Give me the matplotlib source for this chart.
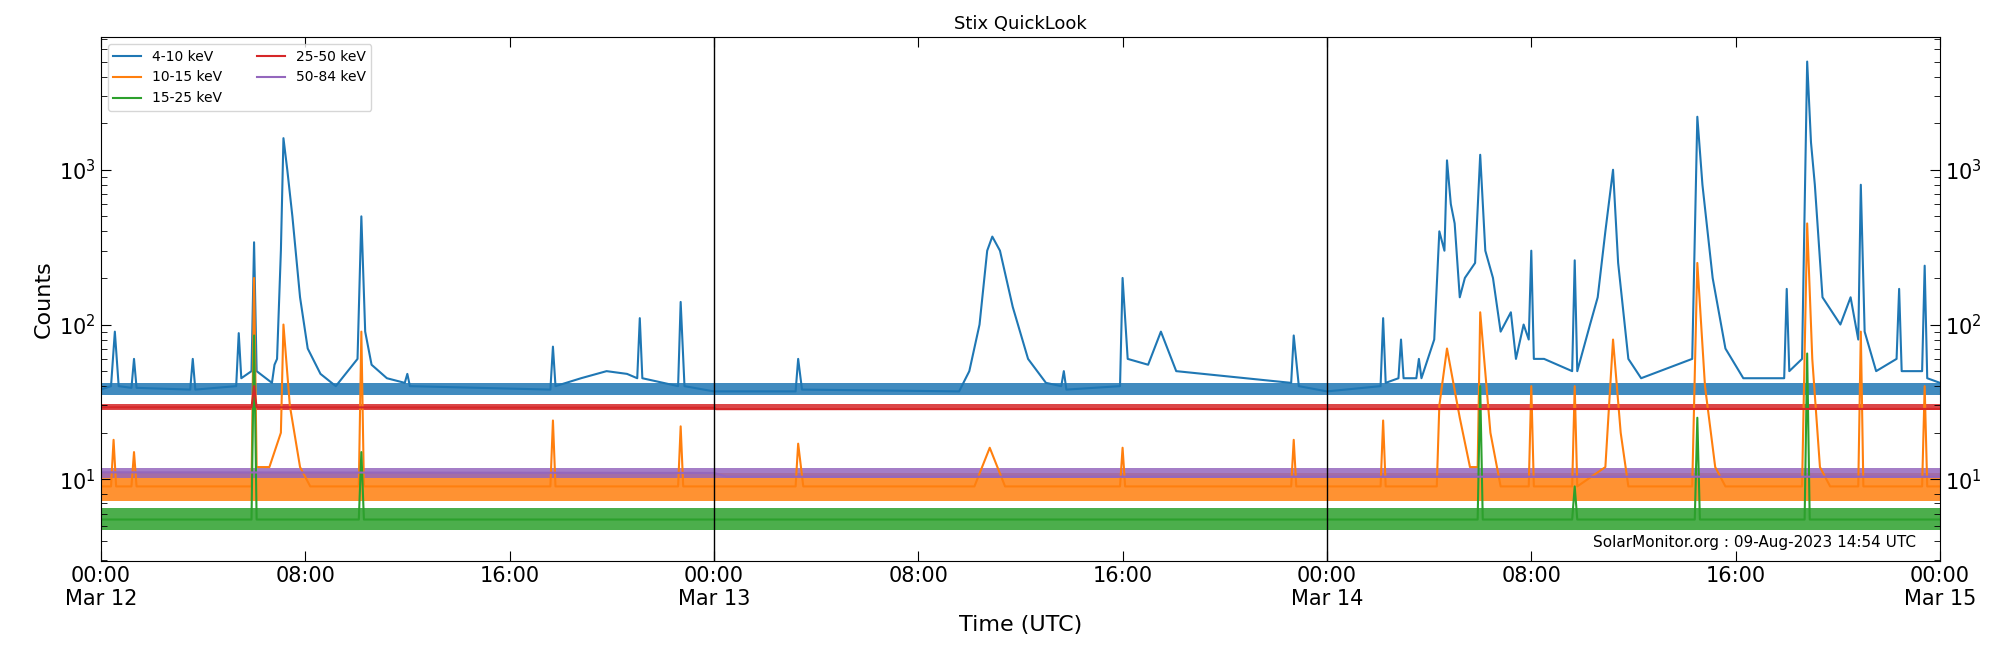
import numpy as np
import matplotlib.pyplot as plt
import matplotlib.dates as mdates
from datetime import datetime, timedelta

start = datetime(2023, 3, 12)

# hours since Mar 12 00:00 and counts
blue_t = [0, 0.4, 0.55, 0.7, 1.2, 1.3, 1.4, 3.5, 3.6, 3.7, 5.3, 5.4, 5.5, 5.9, 6.0, 6.1, 6.7, 6.8, 6.9,
          7.05, 7.15, 7.3, 7.5, 7.8, 8.1, 8.6, 9.2, 10.05, 10.2, 10.35, 10.6, 11.2, 11.9, 12.0, 12.1,
          17.6, 17.7, 17.8, 18.8, 19.8, 20.6, 21.0, 21.1, 21.2, 22.6, 22.7, 22.85, 24.0, 27.2, 27.3, 27.45,
          33.6, 34.0, 34.4, 34.7, 34.9, 35.2, 35.7, 36.3, 37.0, 37.6, 37.7, 37.8, 39.9, 40.0, 40.2, 41.0,
          41.5, 42.1, 46.6, 46.7, 46.9, 48.0, 50.1, 50.2, 50.3, 50.8, 50.9, 51.0, 51.5, 51.6, 51.7, 52.2,
          52.4, 52.6, 52.7, 52.85, 53.0, 53.2, 53.4, 53.8, 54.0, 54.2, 54.5, 54.8, 55.2, 55.4, 55.7, 55.9,
          56.0, 56.1, 56.5, 57.6, 57.7, 57.8, 58.3, 58.6, 58.9, 59.2, 59.4, 59.8, 60.3, 62.3, 62.5, 62.7,
          63.1, 63.6, 64.3, 65.9, 66.0, 66.1, 66.6, 66.8, 66.95, 67.1, 67.4, 68.1, 68.5, 68.8, 68.9, 69.05,
          69.5, 70.3, 70.4, 70.5, 71.3, 71.4, 71.5, 72]
blue_v = [38, 40, 90, 40, 39, 60, 39, 38, 60, 38, 40, 88, 45, 50, 340, 50, 42, 55, 60,
          300, 1600, 1000, 500, 150, 70, 48, 40, 60, 500, 90, 55, 45, 42, 48, 40,
          38, 72, 40, 45, 50, 48, 45, 110, 45, 40, 140, 40, 37, 37, 60, 38,
          37, 50, 100, 300, 370, 300, 130, 60, 42, 40, 50, 38, 40, 200, 60, 55,
          90, 50, 42, 85, 40, 37, 40, 110, 42, 45, 80, 45, 45, 60, 45, 80,
          400, 300, 1150, 600, 450, 150, 200, 250, 1250, 300, 200, 90, 120, 60, 100, 80,
          300, 60, 60, 50, 260, 50, 100, 150, 400, 1000, 250, 60, 45, 60, 2200, 800,
          200, 70, 45, 45, 170, 50, 60, 5000, 1500, 800, 150, 100, 150, 80, 800, 90,
          50, 60, 170, 50, 50, 240, 45, 42]

orange_t = [0, 0.4, 0.5, 0.6, 1.2, 1.3, 1.4, 5.9, 6.0, 6.1, 6.6, 7.05, 7.15, 7.4, 7.8, 8.2,
            10.1, 10.2, 10.3, 17.6, 17.7, 17.8, 22.6, 22.7, 22.8, 27.2, 27.3, 27.5, 34.2, 34.8, 35.4,
            39.9, 40.0, 40.1, 46.6, 46.7, 46.8, 50.1, 50.2, 50.3, 52.3, 52.4, 52.7, 53.2, 53.6, 53.9,
            54.0, 54.4, 54.8, 55.9, 56.0, 56.1, 57.6, 57.7, 57.8, 58.9, 59.2, 59.5, 59.8, 62.3, 62.5,
            62.8, 63.2, 63.6, 66.6, 66.8, 67.0, 67.3, 67.7, 68.8, 68.9, 69.0, 71.3, 71.4, 71.5, 72]
orange_v = [9, 9, 18, 9, 9, 15, 9, 9, 200, 12, 12, 20, 100, 30, 12, 9,
            9, 90, 9, 9, 24, 9, 9, 22, 9, 9, 17, 9, 9, 16, 9,
            9, 16, 9, 9, 18, 9, 9, 24, 9, 9, 30, 70, 25, 12, 12,
            120, 20, 9, 9, 40, 9, 9, 40, 9, 12, 80, 20, 9, 9, 250,
            40, 12, 9, 9, 450, 60, 12, 9, 9, 90, 9, 9, 40, 9, 9]

green_t = [0, 5.9, 6.0, 6.1, 10.1, 10.2, 10.3, 53.9, 54.0, 54.1, 57.6, 57.7, 57.8, 62.4, 62.5, 62.6,
           66.7, 66.8, 66.9, 72]
green_v = [5.5, 5.5, 85, 5.5, 5.5, 15, 5.5, 5.5, 40, 5.5, 5.5, 9, 5.5, 5.5, 25, 5.5,
           5.5, 65, 5.5, 5.5]

red_t = [0, 5.9, 6.0, 6.1, 24.0, 24.1, 72]
red_v = [29.2, 29.2, 40, 29.2, 29.0, 28.4, 28.5]

purple_t = [0, 24.0, 24.5, 72]
purple_v = [11.1, 11.0, 10.4, 10.4]

# noise band (low, high) for each series
bands = {
    "blue": (35, 42),
    "orange": (7.2, 11),
    "green": (4.7, 6.5),
    "red": (28, 30.8),
    "purple": (10.2, 11.8),
}

colors = {"blue": "#1f77b4", "orange": "#ff7f0e", "green": "#2ca02c",
          "red": "#d62728", "purple": "#9467bd"}

def to_dt(hours):
    return [start + timedelta(hours=h) for h in hours]

fig = plt.figure(figsize=(20, 6.5), dpi=100)
ax = fig.add_axes([0.0504, 0.137, 0.9196, 0.806])

series = [("blue", "4-10 keV", blue_t, blue_v),
          ("orange", "10-15 keV", orange_t, orange_v),
          ("green", "15-25 keV", green_t, green_v),
          ("red", "25-50 keV", red_t, red_v),
          ("purple", "50-84 keV", purple_t, purple_v)]

band_t = to_dt([0, 72])
for key, lab, t, v in series:
    lo, hi = bands[key]
    ax.fill_between(band_t, [lo, lo], [hi, hi], color=colors[key], alpha=0.85, lw=0)
    ax.plot(to_dt(t), v, color=colors[key], lw=1.5, label=lab)

for d in [1, 2]:
    ax.axvline(start + timedelta(days=d), color="black", lw=1)

ax.set_yscale("log")
ax.set_ylim(2.97, 7200)
ax.set_xlim(start, start + timedelta(days=3))
ax.xaxis.set_major_locator(mdates.HourLocator(byhour=[0, 8, 16]))

def fmt(x, pos=None):
    d = mdates.num2date(x)
    if d.hour == 0:
        return d.strftime("%H:%M\n%b %d")
    return d.strftime("%H:%M")
ax.xaxis.set_major_formatter(plt.FuncFormatter(fmt))
ax.tick_params(which="both", direction="in", top=True, right=True, labelright=True, labelsize=15)
ax.tick_params(which="major", length=7)
ax.tick_params(which="minor", length=4)

ax.set_title("Stix QuickLook", fontsize=13)
ax.set_xlabel("Time (UTC)", fontsize=16)
ax.set_ylabel("Counts", fontsize=16)
ax.legend(loc="upper left", ncol=2, fontsize=10, columnspacing=2.5)
ax.text(0.987, 0.02, "SolarMonitor.org : 09-Aug-2023 14:54 UTC", transform=ax.transAxes,
        ha="right", va="bottom", fontsize=11)

fig.savefig("out.png", dpi=100)
